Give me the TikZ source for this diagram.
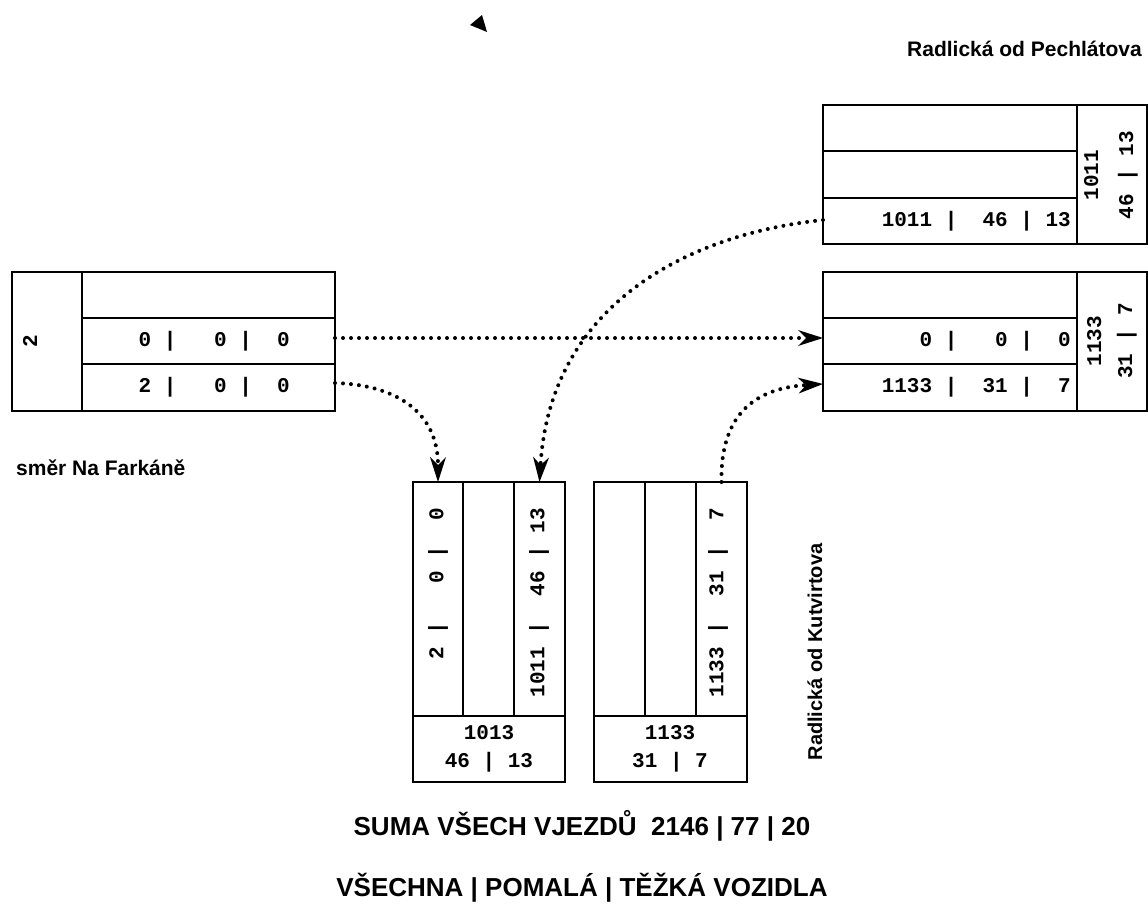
\documentclass[tikz,border=0pt]{standalone}
\usepackage{fontspec}
\setmainfont{Liberation Sans}
\setsansfont{Liberation Sans}
\setmonofont{Liberation Mono}
\usetikzlibrary{arrows.meta}
\newcommand\mkcell[5]{\node[cellbox, minimum width={#4pt-#2pt}, minimum height={#5pt-#3pt}] (#1) at ({(#2+#4)/2},{(#3+#5)/2}) {};}
\tikzset{
  cellbox/.style={draw, line width=2pt, inner sep=0pt, outer sep=0pt, rectangle},
  num/.style={font=\ttfamily\bfseries\fontsize{21}{25}\selectfont, inner sep=0pt},
  lbl/.style={font=\sffamily\bfseries\fontsize{21}{25}\selectfont, inner sep=0pt},
  big/.style={font=\sffamily\bfseries\fontsize{26}{30}\selectfont, inner sep=0pt},
  flow/.style={line width=4pt, line cap=round, dash pattern=on 0pt off 8pt,
    -{Stealth[length=25pt,width=16pt,inset=8pt,line width=0pt]}}
}
\begin{document}
\begin{tikzpicture}[x=1pt,y=-1pt]
\useasboundingbox (0,0) rectangle (1148,912);
% left box
\mkcell{Lc}{12}{272}{82}{411}
\mkcell{L1}{82}{272}{335}{318}
\mkcell{L2}{82}{318}{335}{364}
\mkcell{L3}{82}{364}{335}{411}
% top right box
\mkcell{A1}{823}{105}{1077}{151}
\mkcell{A2}{823}{151}{1077}{198}
\mkcell{A3}{823}{198}{1077}{244}
\mkcell{Ac}{1077}{105}{1147}{244}
% second right box
\mkcell{B1}{823}{272}{1077}{318}
\mkcell{B2}{823}{318}{1077}{364}
\mkcell{B3}{823}{364}{1077}{411}
\mkcell{Bc}{1077}{272}{1147}{411}
% bottom box 1
\mkcell{C1}{413}{482}{463}{716}
\mkcell{C2}{463}{482}{514}{716}
\mkcell{C3}{514}{482}{565}{716}
\mkcell{Cs}{413}{716}{565}{782}
% bottom box 2
\mkcell{D1}{594}{482}{645}{716}
\mkcell{D2}{645}{482}{696}{716}
\mkcell{D3}{696}{482}{747}{716}
\mkcell{Ds}{594}{716}{747}{782}
% texts in cells
\node[num, rotate=90] (tLc) at (30,341) {2};
\node[num, anchor=east] (tL2) at (290,341) {0 |~~~0 |~~0};
\node[num, anchor=east] (tL3) at (290,387) {2 |~~~0 |~~0};
\node[num, anchor=east] (tA3) at (1071,221) {1011 |~~46 | 13};
\node[num, anchor=east] (tB2) at (1071,341) {0 |~~~0 |~~0};
\node[num, anchor=east] (tB3) at (1071,387) {1133 |~~31 |~~7};
\node[num, rotate=90, align=center, font=\ttfamily\bfseries\fontsize{21}{35}\selectfont] (tAc) at (1111,175) {1011\\46 | 13};
\node[num, rotate=90, align=center, font=\ttfamily\bfseries\fontsize{21}{31}\selectfont] (tBc) at (1112,341) {1133\\31 | 7};
\node[num, rotate=90, anchor=east] (tC1) at (438,508) {2 |~~~0 |~~0};
\node[num, rotate=90, anchor=east] (tC3) at (539,508) {1011 |~~46 | 13};
\node[num, rotate=90, anchor=east] (tD3) at (718,508) {1133 |~~31 |~~7};
\node[num, align=center, font=\ttfamily\bfseries\fontsize{21}{28}\selectfont] (tCs) at (489,749) {1013\\46 | 13};
\node[num, align=center, font=\ttfamily\bfseries\fontsize{21}{28}\selectfont] (tDs) at (670,749) {1133\\31 | 7};
% labels
\node[lbl, anchor=base east] (pech) at (1142,57) {Radlická od Pechlátova};
\node[lbl, anchor=base west] (fark) at (16,475) {směr Na Farkáně};
\node[lbl, rotate=90, anchor=base, font=\sffamily\bfseries\fontsize{20}{24}\selectfont] (kutv) at (822,652) {Radlická od Kutvirtova};
\node[big] (suma) at (582,826) {SUMA VŠECH VJEZDŮ~~2146 | 77 | 20};
\node[big] (legend) at (582,888) {VŠECHNA | POMALÁ | TĚŽKÁ VOZIDLA};
% stray arrow head
\fill (470,25) -- (482,15) -- (487,32) -- cycle;
% connectors
\draw[flow] (L2.east |- 0,338) -- (B2.west |- 0,338);
\draw[flow] (L3.east |- 0,383) .. controls (400,385) and (438,415) .. (C1.north);
\draw[flow] (A3.west |- 0,220) .. controls (680,235) and (550,310) .. (C3.north);
\draw[flow] (D3.north) .. controls (720,410) and (760,388) .. (B3.west |- 0,384);
\end{tikzpicture}
\end{document}
